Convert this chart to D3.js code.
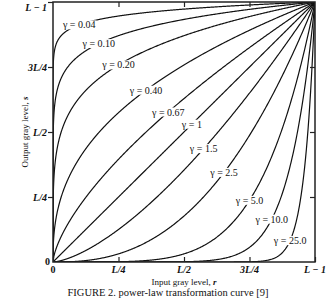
<!DOCTYPE html>
<html><head><meta charset="utf-8">
<script src="https://cdn.jsdelivr.net/npm/d3@7"></script>
<style>
html,body{margin:0;padding:0;background:#fff;}
svg{display:block;}
</style></head>
<body>
<script>
// gamma values for each power-law curve s = (L-1)(r/(L-1))^gamma
const gammas = [0.04, 0.10, 0.20, 0.40, 0.67, 1, 1.5, 2.5, 5.0, 10.0, 25.0];
const curveLabels = ["γ = 0.04","γ = 0.10","γ = 0.20","γ = 0.40","γ = 0.67","γ = 1","γ = 1.5","γ = 2.5","γ = 5.0","γ = 10.0","γ = 25.0"];
// normalized input level (r/(L-1)) at which each label sits on its curve
const labelAt = [0.10, 0.175, 0.25, 0.355, 0.44, 0.53, 0.575, 0.653, 0.75, 0.835, 0.905];
const tickValues = [0, 0.25, 0.5, 0.75, 1];
const tickLabels = ["0", "L/4", "L/2", "3L/4", "L − 1"];

const W = 331, H = 298;
const m = {l: 53, r: 16, t: 2, b: 36};
const svg = d3.select("body").append("svg").attr("width", W).attr("height", H);
const x = d3.scaleLinear().domain([0, 1]).range([m.l, W - m.r]);
const y = d3.scaleLinear().domain([0, 1]).range([H - m.b, m.t]);

svg.append("defs").append("clipPath").attr("id", "clip")
  .append("rect").attr("x", x(0)).attr("y", y(1)).attr("width", x(1) - x(0)).attr("height", y(0) - y(1));

// sampling grid dense near 0 for steep low-gamma curves
const grid = d3.range(0, 1.00001, 1 / 600).map(t => t * t);
const line = d3.line().x(d => x(d[0])).y(d => y(d[1]));

const g = svg.append("g").attr("clip-path", "url(#clip)");
gammas.forEach(gm => {
  g.append("path")
    .datum(grid.map(r => [r, Math.pow(r, gm)]))
    .attr("d", line)
    .attr("fill", "none").attr("stroke", "#111").attr("stroke-width", 1.2);
});

// labels with white backgrounds that break the curves
const font = "'Liberation Serif', 'DejaVu Serif', serif";
gammas.forEach((gm, i) => {
  const r = labelAt[i];
  const cx = x(r), cy = y(Math.pow(r, gm));
  const t = svg.append("text").attr("x", cx).attr("y", cy)
    .attr("text-anchor", "middle").attr("dominant-baseline", "central")
    .attr("font-family", font).attr("font-size", 10).attr("fill", "#111")
    .text(curveLabels[i]);
  const bb = t.node().getBBox();
  svg.insert("rect", () => t.node())
    .attr("x", bb.x - 1).attr("y", bb.y + 1).attr("width", bb.width + 2).attr("height", bb.height - 2)
    .attr("fill", "#fff");
});

// frame
svg.append("rect").attr("x", x(0)).attr("y", y(1)).attr("width", x(1) - x(0)).attr("height", y(0) - y(1))
  .attr("fill", "none").attr("stroke", "#222").attr("stroke-width", 1.5);

// axes
const tk = 5;
const fmt = (d) => tickLabels[tickValues.indexOf(d)];
const ax = svg.append("g");
// bottom axis: ticks point inward
ax.append("g").attr("transform", `translate(0,${y(0)})`)
  .call(d3.axisTop(x).tickValues(tickValues).tickSize(tk).tickFormat(""));
// top ticks inward
ax.append("g").attr("transform", `translate(0,${y(1)})`)
  .call(d3.axisBottom(x).tickValues(tickValues.slice(1, 4)).tickSize(tk).tickFormat(""));
// left axis ticks outward
const left = ax.append("g").attr("transform", `translate(${x(0)},0)`)
  .call(d3.axisLeft(y).tickValues(tickValues.slice(1)).tickSize(tk).tickFormat(fmt).tickPadding(1));
// right ticks inward
ax.append("g").attr("transform", `translate(${x(1)},0)`)
  .call(d3.axisLeft(y).tickValues(tickValues.slice(1, 4)).tickSize(tk).tickFormat(""));
ax.selectAll(".domain").remove();
ax.selectAll(".tick line").attr("stroke", "#222").attr("stroke-width", 1.2);
left.selectAll(".tick text").attr("font-family", font).attr("font-size", 10)
  .attr("font-style", "italic").attr("font-weight", "bold").attr("fill", "#111")
  .attr("dy", d => d === 1 ? "0.85em" : "0.32em");

// bottom tick labels
svg.append("g").selectAll("text").data(tickValues).join("text")
  .attr("x", d => x(d)).attr("y", y(0) + 11)
  .attr("text-anchor", "middle").attr("font-family", font).attr("font-size", 10)
  .attr("font-style", d => d === 0 ? "normal" : "italic").attr("font-weight", "bold").attr("fill", "#111")
  .text(fmt);
// left zero
svg.append("text").attr("x", x(0) - 3).attr("y", y(0) + 3)
  .attr("text-anchor", "end").attr("font-family", font).attr("font-size", 10)
  .attr("font-weight", "bold").attr("fill", "#111").text("0");

// axis titles
const xt = svg.append("text").attr("x", (x(0) + x(1)) / 2).attr("y", y(0) + 23)
  .attr("text-anchor", "middle").attr("font-family", font).attr("font-size", 9).attr("fill", "#111");
xt.append("tspan").text("Input gray level, ");
xt.append("tspan").attr("font-style", "italic").attr("font-weight", "bold").text("r");

const yt = svg.append("text").attr("transform", `translate(28,${(y(0) + y(1)) / 2}) rotate(-90)`)
  .attr("text-anchor", "middle").attr("font-family", font).attr("font-size", 9).attr("fill", "#111");
yt.append("tspan").text("Output gray level, ");
yt.append("tspan").attr("font-style", "italic").attr("font-weight", "bold").text("s");

// caption
svg.append("text").attr("x", 168).attr("y", 296)
  .attr("text-anchor", "middle").attr("font-family", font).attr("font-size", 10.5).attr("fill", "#111")
  .text("FIGURE 2. power-law transformation curve [9]");
</script>
</body></html>
